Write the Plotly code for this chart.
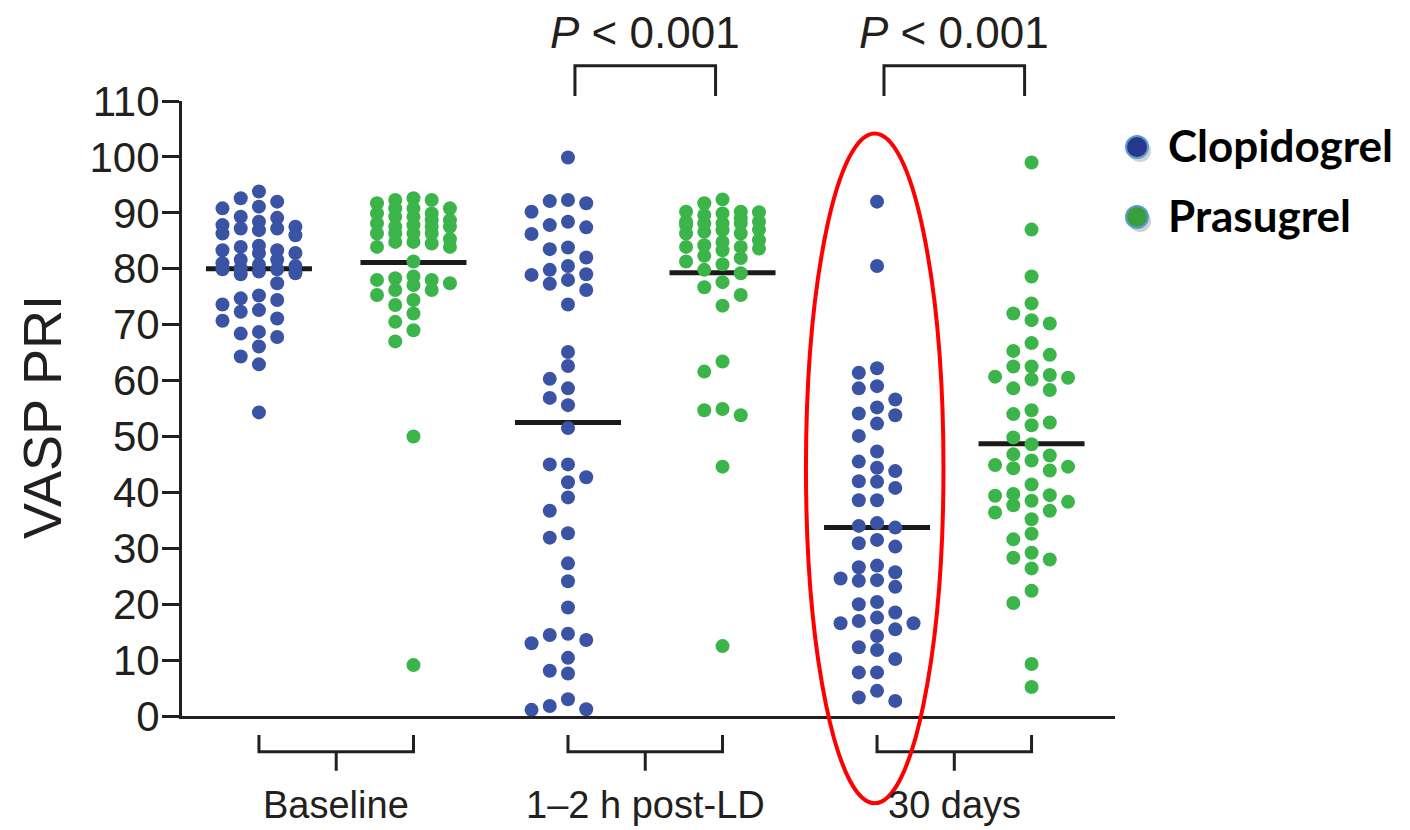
import plotly.graph_objects as go

# ---------------- data ----------------
timepoints = ["Baseline", "1\u20132 h post-LD", "30 days"]
drugs = ["Clopidogrel", "Prasugrel"]

clop_baseline = [92.6, 93.8, 91.1, 92.0, 90.8, 89.1, 89.3, 88.4, 87.2, 86.9, 87.8, 87.5, 86.0, 86.3,
                 87.2, 83.3, 82.8, 84.1, 83.3, 83.9, 82.8, 79.9, 79.9, 81.6, 79.5, 81.0, 80.7, 81.6,
                 79.2, 80.1, 80.5, 79.0, 77.4, 74.4, 75.2, 74.7, 73.6, 71.1, 72.6, 72.3, 70.7, 68.4,
                 67.8, 68.7, 66.1, 64.3, 62.9, 54.3]
pras_baseline = [91.7, 92.3, 92.6, 92.3, 89.9, 90.8, 89.9, 89.3, 90.8, 90.8, 89.3, 88.7, 88.7, 87.8,
                 87.5, 87.5, 87.5, 88.1, 86.3, 86.3, 86.3, 86.3, 84.8, 84.8, 85.3, 84.5, 83.9, 83.9,
                 81.3, 78.6, 77.1, 78.0, 76.2, 78.0, 77.4, 78.3, 75.3, 73.5, 76.2, 74.4, 72.0, 70.5,
                 69.0, 67.0, 50.0, 9.1]
clop_post_ld = [99.9, 92.1, 91.7, 92.3, 90.2, 88.4, 87.4, 87.8, 86.2, 83.8, 83.5, 82.0, 80.5, 79.0,
                78.0, 77.3, 78.9, 79.8, 76.2, 73.6, 65.1, 62.6, 60.3, 58.6, 56.9, 55.6, 51.5, 45.0,
                45.0, 42.7, 41.8, 39.1, 36.7, 32.7, 31.9, 27.3, 24.1, 19.4, 14.5, 13.0, 13.6, 14.7,
                10.4, 8.1, 7.6, 1.8, 1.1, 1.2, 3.0]
pras_post_ld = [91.7, 92.4, 90.2, 89.9, 90.2, 89.6, 90.1, 88.1, 88.4, 88.4, 89.0, 88.1, 88.1, 87.8,
                86.3, 86.6, 86.9, 86.3, 87.0, 84.8, 85.1, 83.3, 83.9, 83.9, 83.6, 84.2, 82.3, 81.9,
                80.8, 81.3, 79.2, 79.8, 76.7, 77.6, 75.3, 73.4, 63.4, 61.6, 54.9, 53.8, 54.7, 44.6,
                12.5]
clop_30d = [92.0, 80.5, 62.2, 61.4, 59.0, 58.6, 56.6, 55.2, 53.8, 54.1, 52.3, 50.1, 47.3, 45.5, 44.4,
            43.8, 42.0, 40.8, 41.9, 38.6, 38.6, 34.0, 33.7, 34.5, 31.5, 30.3, 30.9, 26.9, 25.7, 26.6,
            24.6, 23.1, 24.2, 24.3, 20.0, 20.4, 18.5, 16.6, 17.0, 17.6, 16.6, 14.3, 15.5, 11.8, 12.3,
            10.2, 7.8, 7.8, 4.5, 2.7, 3.3]
pras_30d = [99.0, 87.0, 78.6, 73.8, 72.0, 70.8, 70.2, 66.7, 65.3, 64.6, 62.5, 62.5, 61.0, 60.7, 60.2,
            60.5, 58.3, 58.6, 54.7, 52.5, 52.0, 54.0, 49.8, 48.6, 46.6, 46.8, 44.9, 44.3, 43.9, 44.6,
            45.7, 41.4, 38.5, 39.7, 38.3, 36.4, 37.7, 39.4, 39.5, 36.7, 35.2, 31.6, 32.6, 29.2, 28.0,
            26.4, 28.3, 22.4, 20.2, 9.3, 5.2]
medians = [80.0, 81.1, 52.5, 79.3, 33.7, 48.7]
y_ticks = list(range(0, 111, 10))
p_labels = ["<i>P</i> &lt; 0.001", "<i>P</i> &lt; 0.001"]

groups = [clop_baseline, pras_baseline, clop_post_ld, pras_post_ld, clop_30d, pras_30d]

# ---------------- styling ----------------
BLUE = "#3a53a4"
GREEN = "#3bb54a"
INK = "#231f20"
FONT = "Liberation Sans, Arial, sans-serif"

# page has an 8 px body margin; the figure is laid out so the plot area lands
# at window pixels x 182..1115, y 101..716
OFF = 8
XMIN, XMAX = -0.498, 5.540
YMIN, YMAX = 0, 110
PL, PR, PT, PB = 182, 1115, 101, 716          # plot area in window pixels
W, H = 1402, 822
L, T = PL - OFF, PT - OFF
PW, PH = PR - PL, PB - PT
R = W - L - PW
B = H - T - PH


def xp(x):
    return (x - XMIN) / (XMAX - XMIN)


def yp(y):
    return (y - YMIN) / (YMAX - YMIN)


def pxx(px):
    return (px - PL) / PW


def pxy(py):
    return (PB - py) / PH


def swarm(vals, step=0.118, sep=2.4, lanes_order=(0, -1, 1, -2, 2)):
    order = sorted(range(len(vals)), key=lambda i: -vals[i])
    lanes = {}
    offs = [0.0] * len(vals)
    for i in order:
        v = vals[i]
        best = None
        for ln in lanes_order:
            if all(abs(v - u) >= sep for u in lanes.get(ln, [])):
                best = ln
                break
        if best is None:
            best = max(lanes_order,
                       key=lambda ln: min(abs(v - u) for u in lanes.get(ln, [])) if lanes.get(ln) else 1e9)
        lanes.setdefault(best, []).append(v)
        offs[i] = best * step
    return offs


fig = go.Figure()

# median lines (under dots)
for gi, m in enumerate(medians):
    fig.add_trace(go.Scatter(x=[gi - 0.343, gi + 0.343], y=[m, m], mode="lines",
                             line=dict(color="#1a1a1a", width=5), showlegend=False,
                             hoverinfo="skip", cliponaxis=False))

for gi, vals in enumerate(groups):
    offs = swarm(vals)
    fig.add_trace(go.Scatter(
        x=[gi + o for o in offs], y=vals, mode="markers",
        marker=dict(size=14, color=BLUE if gi % 2 == 0 else GREEN, line=dict(width=0)),
        showlegend=False, cliponaxis=False, name=drugs[gi % 2]))

shapes = []
annotations = []
line_style = dict(color=INK, width=3)

# bottom brackets + labels
for k, lab in enumerate(timepoints):
    c0, c1 = 2 * k, 2 * k + 1
    mid = (c0 + c1) / 2
    path = (f"M {xp(c0)},{yp(-3.4)} L {xp(c0)},{yp(-6.4)} L {xp(c1)},{yp(-6.4)} L {xp(c1)},{yp(-3.4)} "
            f"M {xp(mid)},{yp(-6.4)} L {xp(mid)},{yp(-9.8)}")
    shapes.append(dict(type="path", path=path, xref="paper", yref="paper", line=line_style))
    annotations.append(dict(x=mid, y=yp(-16.0), xref="x", yref="paper", text=lab, showarrow=False,
                            xanchor="center", yanchor="middle",
                            font=dict(family=FONT, size=38, color=INK)))

# top brackets with P values
for k, ptxt in zip([1, 2], p_labels):
    c0, c1 = 2 * k + 0.045, 2 * k + 1 - 0.045
    mid = 2 * k + 0.5
    path = (f"M {xp(c0)},{yp(110.9)} L {xp(c0)},{yp(116.3)} L {xp(c1)},{yp(116.3)} L {xp(c1)},{yp(110.9)}")
    shapes.append(dict(type="path", path=path, xref="paper", yref="paper", line=line_style))
    annotations.append(dict(x=mid, y=yp(122.2), xref="x", yref="paper", text=ptxt, showarrow=False,
                            xanchor="center", yanchor="middle",
                            font=dict(family=FONT, size=44, color=INK)))

# red ellipse highlighting clopidogrel at 30 days
ell_cx, ell_rx, ell_top, ell_bot = 3.985, 0.445, 104.2, -15.6
shapes.append(dict(type="circle", xref="paper", yref="paper",
                   x0=xp(ell_cx - ell_rx), x1=xp(ell_cx + ell_rx), y0=yp(ell_bot), y1=yp(ell_top),
                   line=dict(color="#ff0000", width=4)))

# y-axis title
annotations.append(dict(x=pxx(42), y=pxy(417), xref="paper", yref="paper", text="VASP PRI",
                        textangle=-90, showarrow=False, xanchor="center", yanchor="middle",
                        font=dict(family=FONT, size=54, color=INK)))

# custom legend
for (lab, col, cy) in [(drugs[0], "#27388c", 147), (drugs[1], "#3a9e3a", 217)]:
    r = 11
    shapes.append(dict(type="circle", xref="paper", yref="paper",
                       x0=pxx(1137 - r + 3), x1=pxx(1137 + r + 3), y0=pxy(cy + r + 4), y1=pxy(cy - r + 4),
                       fillcolor="rgba(0,0,0,0.18)", line=dict(width=0)))
    shapes.append(dict(type="circle", xref="paper", yref="paper",
                       x0=pxx(1137 - r), x1=pxx(1137 + r), y0=pxy(cy + r), y1=pxy(cy - r),
                       fillcolor=col, line=dict(color="#5b9bd5", width=2)))
    annotations.append(dict(x=pxx(1166), y=pxy(cy - 2), xref="paper", yref="paper", text=f"<b>{lab}</b>",
                            showarrow=False, xanchor="left", yanchor="middle",
                            font=dict(family="Lato, Open Sans, sans-serif", size=44, color="#000000")))

fig.update_layout(
    width=W, height=H, margin=dict(l=L, r=R, t=T, b=B, pad=0),
    paper_bgcolor="white", plot_bgcolor="white", showlegend=False,
    shapes=shapes, annotations=annotations,
    xaxis=dict(range=[XMIN, XMAX], showline=True, linewidth=3, linecolor=INK, showgrid=False,
               zeroline=False, showticklabels=False, ticks=""),
    yaxis=dict(range=[YMIN, YMAX], tickvals=y_ticks, ticktext=[str(v) for v in y_ticks],
               showline=True, linewidth=3, linecolor=INK, showgrid=False, zeroline=False,
               ticks="outside", ticklen=17, tickwidth=3, tickcolor=INK, ticklabelstandoff=-6,
               tickfont=dict(family=FONT, size=42, color=INK)),
)

fig.write_html("out.html")
